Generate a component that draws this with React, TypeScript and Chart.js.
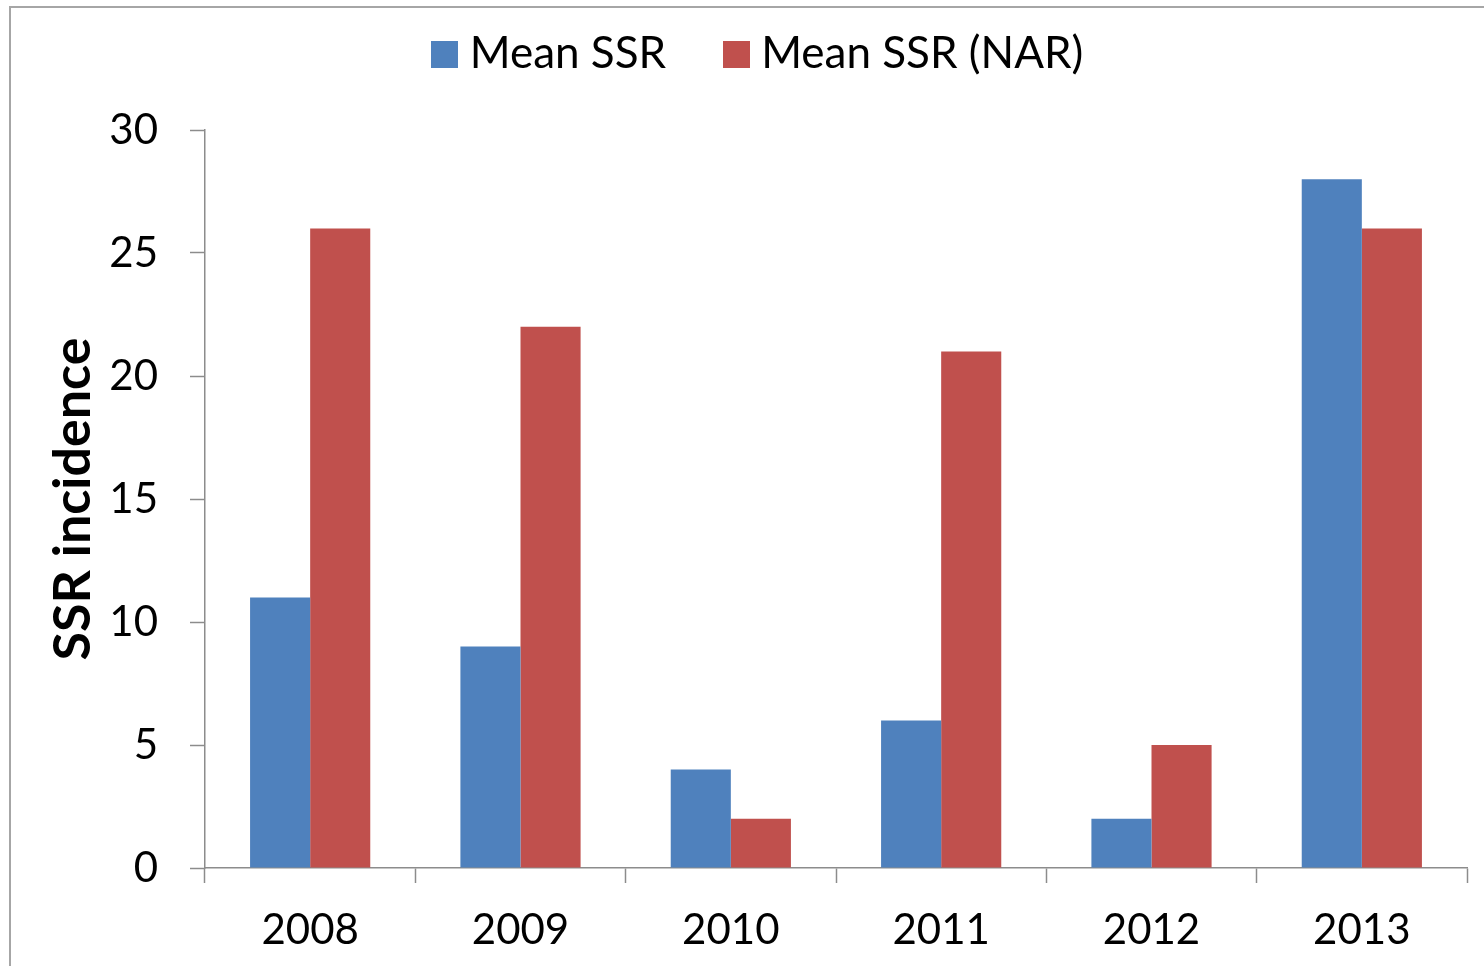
import React, { useEffect, useRef } from "react";
import { Chart, registerables } from "chart.js";

Chart.register(...registerables);

const categories = ["2008", "2009", "2010", "2011", "2012", "2013"];
const meanSSR = [11, 9, 4, 6, 2, 28];
const meanSSRNar = [26, 22, 2, 21, 5, 26];
const seriesLabels = ["Mean SSR", "Mean SSR (NAR)"];
const seriesColors = ["#4F81BD", "#C0504D"];
const yTicks = [0, 5, 10, 15, 20, 25, 30];
const yTitle = "SSR incidence";

const FONT = "Lato";
const AXIS = "#8c8c8c";

function makeSwatch(color: string) {
  const c = document.createElement("canvas");
  c.width = 27;
  c.height = 27;
  const ctx = c.getContext("2d")!;
  ctx.fillStyle = color;
  ctx.fillRect(0, 0, 27, 27);
  return c;
}

export default function App() {
  const ref = useRef<HTMLCanvasElement | null>(null);

  useEffect(() => {
    const swatches = seriesColors.map(makeSwatch);
    const borderPlugin = {
      id: "outerBorder",
      beforeDraw(chart: any) {
        const ctx = chart.ctx;
        ctx.save();
        ctx.strokeStyle = "#a6a6a6";
        ctx.lineWidth = 2;
        ctx.strokeRect(10, 7, 3000, 3000);
        ctx.restore();
      },
    };
    const legendSpacer = {
      id: "legendSpacer",
      afterInit(chart: any) {
        const lg = chart.legend;
        if (!lg || lg.__wrapped) return;
        const orig = lg.fit.bind(lg);
        lg.fit = function () {
          orig();
          this.height += 44;
        };
        lg.__wrapped = true;
      },
    };
    const tickFont = { family: FONT, size: 42 };
    const chart = new Chart(ref.current!, {
      type: "bar",
      data: {
        labels: categories,
        datasets: [
          {
            label: seriesLabels[0],
            data: meanSSR,
            backgroundColor: seriesColors[0],
            categoryPercentage: 2 / 3.5,
            barPercentage: 1,
          },
          {
            label: seriesLabels[1],
            data: meanSSRNar,
            backgroundColor: seriesColors[1],
            categoryPercentage: 2 / 3.5,
            barPercentage: 1,
          },
        ],
      },
      options: {
        animation: false,
        responsive: false,
        layout: { padding: { left: 58, right: 17, top: -35, bottom: 0 } },
        plugins: {
          legend: {
            position: "top",
            labels: {
              usePointStyle: true,
              boxWidth: 6,
              font: { family: FONT, size: 44 },
              color: "#000",
              padding: 67,
              generateLabels: (c: any) =>
                (Chart.defaults.plugins.legend.labels as any)
                  .generateLabels(c)
                  .map((it: any) => ({ ...it, pointStyle: swatches[it.datasetIndex] })),
            },
          },
          tooltip: { enabled: false },
        },
        scales: {
          x: {
            grid: {
              drawOnChartArea: false,
              drawTicks: true,
              tickLength: 15,
              tickWidth: 1.5,
              tickColor: AXIS,
              color: AXIS,
              offset: true,
            },
            border: { color: AXIS, width: 1.5 },
            ticks: { font: tickFont, color: "#000", padding: 22, maxRotation: 0 },
            afterFit: (s: any) => {
              s.height = 98;
            },
          },
          y: {
            min: 0,
            max: 30,
            afterBuildTicks: (s: any) => {
              s.ticks = yTicks.map((v) => ({ value: v }));
            },
            grid: {
              drawOnChartArea: false,
              drawTicks: true,
              tickLength: 15,
              tickWidth: 1.5,
              tickColor: AXIS,
              color: AXIS,
            },
            border: { color: AXIS, width: 1.5 },
            ticks: { font: tickFont, color: "#000", padding: 32 },
            title: {
              display: true,
              text: yTitle,
              font: { family: FONT, size: 52, weight: "bold" },
              color: "#000",
              padding: { top: -16, bottom: 0 },
            },
            afterFit: (s: any) => {
              s.width = 147;
              s.paddingTop = 130;
            },
          },
        },
      },
      plugins: [borderPlugin, legendSpacer],
    } as any);
    return () => chart.destroy();
  }, []);

  return (
    <div style={{ position: "fixed", left: 0, top: 0, width: 1484, height: 966, background: "#fff" }}>
      <canvas ref={ref} width={1484} height={966} style={{ display: "block" }} />
    </div>
  );
}
